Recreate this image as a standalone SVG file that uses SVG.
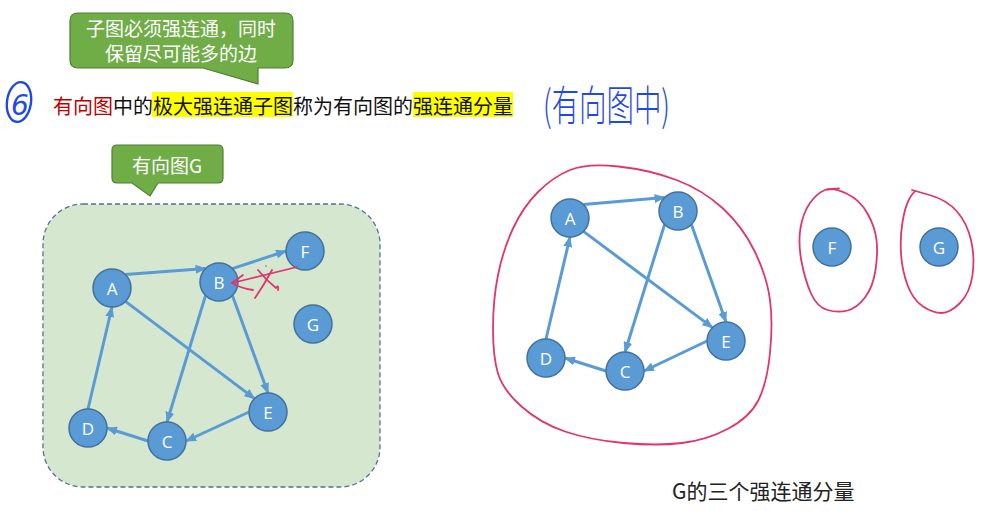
<svg xmlns="http://www.w3.org/2000/svg" width="984" height="511" viewBox="0 0 984 511">
<style>
.cjk{font-family:"Noto Sans CJK SC","Liberation Sans",sans-serif}
.lbl{font-family:"Open Sans","Liberation Sans",sans-serif;font-size:17px;fill:#fff;text-anchor:middle;dominant-baseline:central}
.node{fill:#5b9bd5;stroke:#41719c;stroke-width:1.5}
.edge{stroke:#5b9bd5;stroke-width:3;fill:none;marker-end:url(#ah)}
.pen{stroke:#e2346e;stroke-width:1.8;fill:none;stroke-linecap:round;stroke-linejoin:round}
.blue{stroke:#1f48e8;stroke-width:2.4;fill:none;stroke-linecap:round}
.call{fill:#70ad47;stroke:#507e32;stroke-width:1.2}
.ctext{fill:#fff;text-anchor:middle;dominant-baseline:central}
</style>
<defs>
<marker id="ah" markerUnits="userSpaceOnUse" markerWidth="11" markerHeight="9" refX="10" refY="4.5" orient="auto">
<path d="M0,0 L11,4.5 L0,9 z" fill="#5b9bd5"/>
</marker>
</defs>
<rect width="984" height="511" fill="#fff"/>

<g id="callout-top">
<path class="call" d="M78,13 H285 Q293,13 293,21 V60 Q293,68 285,68 H258 L258,84 L203,68 H78 Q70,68 70,60 V21 Q70,13 78,13 Z"/>
<text class="cjk ctext" x="181" y="27" font-size="19">子图必须强连通，同时</text>
<text class="cjk ctext" x="181" y="52" font-size="19">保留尽可能多的边</text>
</g>

<g id="heading">
<ellipse class="blue" cx="19" cy="102" rx="12" ry="20" transform="rotate(8 19 102)"/>
<text x="20" y="105" font-family="DejaVu Sans,sans-serif" font-size="28" fill="#1f48e8" text-anchor="middle" dominant-baseline="central" font-style="italic">6</text>
<rect x="152" y="92" width="141" height="25" fill="#ffff00"/>
<rect x="413" y="92" width="100" height="25" fill="#ffff00"/>
<text class="cjk" x="53" y="105" font-size="20" dominant-baseline="central" fill="#111"><tspan fill="#c00000">有向图</tspan>中的极大强连通子图称为有向图的强连通分量</text>
<text class="cjk" x="543" y="102" font-size="42" fill="#1f48e8" dominant-baseline="central" textLength="127" lengthAdjust="spacingAndGlyphs" font-weight="300">(有向图中)</text>
</g>

<g id="callout-G">
<path class="call" d="M117,145 H218 Q223,145 223,150 V178 Q223,183 218,183 H158 L150,196 L132,183 H117 Q112,183 112,178 V150 Q112,145 117,145 Z"/>
<text class="cjk ctext" x="167" y="164" font-size="19">有向图G</text>
</g>

<g id="graph-box">
<rect x="43" y="204" width="337" height="283" rx="40" fill="#d5e8cf" stroke="#52729a" stroke-width="1.3" stroke-dasharray="5,3"/>
</g>

<g id="connectors">
<line class="edge" x1="125.4" y1="274.6" x2="205.6" y2="268.6"/>
<line class="edge" x1="232.4" y1="268.6" x2="286" y2="251"/>
<line class="edge" x1="205.6" y1="295.4" x2="167" y2="422"/>
<line class="edge" x1="232.4" y1="295.4" x2="268" y2="393"/>
<line class="edge" x1="125.4" y1="301.4" x2="254.6" y2="398.6"/>
<line class="edge" x1="249" y1="412" x2="186" y2="441"/>
<line class="edge" x1="148" y1="441" x2="107" y2="428"/>
<line class="edge" x1="88" y1="409" x2="112" y2="307"/>

<line class="edge" x1="583.4" y1="204.6" x2="664.6" y2="197.6"/>
<line class="edge" x1="664.6" y1="224.4" x2="625" y2="352"/>
<line class="edge" x1="691.4" y1="224.4" x2="726" y2="322"/>
<line class="edge" x1="583.4" y1="231.4" x2="712.6" y2="327.6"/>
<line class="edge" x1="707" y1="341" x2="644" y2="371"/>
<line class="edge" x1="606" y1="371" x2="565" y2="358"/>
<line class="edge" x1="546" y1="339" x2="570" y2="237"/>
</g>

<g id="L-A"><circle class="node" cx="112" cy="288" r="19"/><text class="lbl" x="112" y="288">A</text></g>
<g id="L-B"><circle class="node" cx="219" cy="282" r="19"/><text class="lbl" x="219" y="282">B</text></g>
<g id="L-F"><circle class="node" cx="305" cy="251" r="19"/><text class="lbl" x="305" y="251">F</text></g>
<g id="L-G"><circle class="node" cx="313" cy="324" r="19"/><text class="lbl" x="313" y="324">G</text></g>
<g id="L-E"><circle class="node" cx="268" cy="412" r="19"/><text class="lbl" x="268" y="412">E</text></g>
<g id="L-C"><circle class="node" cx="167" cy="441" r="19"/><text class="lbl" x="167" y="441">C</text></g>
<g id="L-D"><circle class="node" cx="88" cy="428" r="19"/><text class="lbl" x="88" y="428">D</text></g>

<g id="pen-marks">
<path class="pen" d="M297,267 L232,283"/>
<path class="pen" d="M243,275 L232,283 Q240,288 253,290"/>
<path class="pen" d="M255,298 Q264,285 272,270"/>
<path class="pen" d="M258,270 Q266,280 276,288 Q279,284 278,290"/>
<circle cx="266" cy="266" r="0.8" fill="#e2346e"/>
</g>

<g id="R-A"><circle class="node" cx="570" cy="218" r="19"/><text class="lbl" x="570" y="218">A</text></g>
<g id="R-B"><circle class="node" cx="678" cy="211" r="19"/><text class="lbl" x="678" y="211">B</text></g>
<g id="R-E"><circle class="node" cx="726" cy="341" r="19"/><text class="lbl" x="726" y="341">E</text></g>
<g id="R-C"><circle class="node" cx="625" cy="371" r="19"/><text class="lbl" x="625" y="371">C</text></g>
<g id="R-D"><circle class="node" cx="546" cy="358" r="19"/><text class="lbl" x="546" y="358">D</text></g>
<g id="R-F"><circle class="node" cx="832" cy="247" r="19"/><text class="lbl" x="832" y="247">F</text></g>
<g id="R-G"><circle class="node" cx="939" cy="247" r="19"/><text class="lbl" x="939" y="247">G</text></g>

<g id="component-rings">
<path class="pen" stroke-width="1.5" d="M618.5,166.5 Q650,170 676.5,180 Q703,190 723,208.5 Q743,227 755,252 Q767,277 770,300 Q773,323 770,353 Q767,383 758.5,400 Q750,417 728.5,428.5 Q707,440 682,443 Q657,446 623.5,443 Q590,440 565,431.5 Q540,423 521.5,406.5 Q503,390 498,373.5 Q493,357 493,328.5 Q493,300 498,275 Q503,250 513,228.5 Q523,207 538,192 Q553,177 570,170 Q587,163 618.5,166.5 Z"/>
<path class="pen" stroke-width="1.5" d="M846.5,193.5 Q860,200 867.5,213.5 Q875,227 876.5,240 Q878,253 875.5,270 Q873,287 865,297.5 Q857,308 847.5,310.5 Q838,313 827.5,310 Q817,307 811,293.5 Q805,280 801.5,261.5 Q798,243 800.5,228 Q803,213 810,203 Q817,193 825,190 Q833,187 846.5,193.5 Z"/>
<path class="pen" stroke-width="1.5" d="M827,189.5 L839,188.5"/>
<path class="pen" stroke-width="1.5" d="M912,190 L929.5,195 Q947,200 957,211.5 Q967,223 971,240 Q975,257 972.5,275 Q970,293 960,303 Q950,313 941.5,313 Q933,313 923,306.5 Q913,300 907.5,285 Q902,270 901,253.5 Q900,237 902.5,222 Q905,207 909,199.5 Q913,192 916,191"/>
</g>

<g id="caption">
<text class="cjk" x="672" y="490" font-size="21" fill="#222" dominant-baseline="central">G的三个强连通分量</text>
</g>
</svg>
